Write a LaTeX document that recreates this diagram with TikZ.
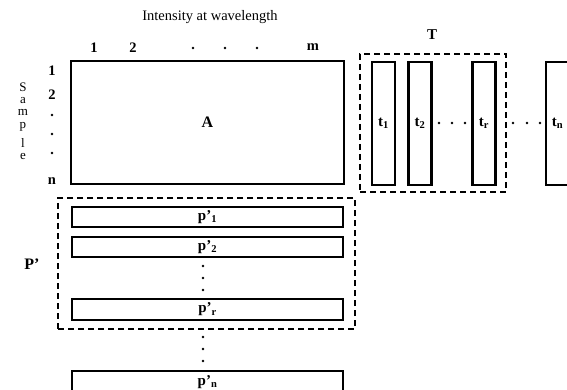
\documentclass[tikz,border=0pt]{standalone}
\usepackage{fontspec}
\setmainfont{Liberation Serif}
\begin{document}
\begin{tikzpicture}[x=1pt,y=-1pt,
  mat/.style={draw,line width=2.6pt,inner sep=0pt,font=\fontsize{15}{15}\selectfont\bfseries},
  grp/.style={draw,dash pattern=on 6pt off 4pt,line width=1.3pt,inner sep=0pt},
  lab/.style={inner sep=0pt,font=\fontsize{14.5}{14.5}\selectfont\bfseries},
  sm/.style={inner sep=0pt,font=\fontsize{13}{13}\selectfont},
  dotm/.style={circle,fill,inner sep=0pt,minimum size=2.8pt}]
\useasboundingbox (0,0) rectangle (567,390);
% title
\node[inner sep=0pt,font=\fontsize{14.5}{14.5}\selectfont] (title) at (210,17) {Intensity at wavelength};
% matrix A
\node[mat,font=\fontsize{16}{16}\selectfont\bfseries,minimum width=273pt,minimum height=123pt] (A) at (207.5,122.5) {A};
% column labels
\node[lab] (c1) at (94,48) {1};
\node[lab] (c2) at (133,48) {2};
\node[dotm] (cd1) at (193,48) {};
\node[dotm] (cd2) at (225,48) {};
\node[dotm] (cd3) at (257,48) {};
\node[lab] (cm) at (313,47) {m};
% row labels
\node[lab] (r1) at (52,71) {1};
\node[lab] (r2) at (52,95) {2};
\node[dotm] (rd1) at (52,115) {};
\node[dotm] (rd2) at (52,134) {};
\node[dotm] (rd3) at (52,153) {};
\node[lab] (rn) at (52,181) {n};
% Sample
\node[sm] (s1) at (23,87) {S};
\node[sm] (s2) at (23,101) {a};
\node[sm] (s3) at (23,112.5) {m};
\node[sm] (s4) at (23,127) {p};
\node[sm] (s5) at (23,143) {l};
\node[sm] (s6) at (23,157) {e};
% T group
\node[lab,font=\fontsize{15}{15}\selectfont\bfseries] (Tl) at (432,35) {T};
\node[grp,minimum width=146pt,minimum height=138pt] (Tbox) at (433,123) {};
\node[mat,minimum width=23pt,minimum height=123pt] (t1) at (383.5,123.5) {t\textsubscript{1}};
\node[mat,minimum width=23pt,minimum height=123pt] (t2) at (420,123.5) {t\textsubscript{2}};
\node[mat,minimum width=23pt,minimum height=123pt] (tr) at (484,123.5) {t\textsubscript{r}};
\node[mat,minimum width=23pt,minimum height=123pt] (tn) at (557.5,123.5) {t\textsubscript{n}};
\node[dotm] (td1) at (439,123) {};
\node[dotm] (td2) at (452,123) {};
\node[dotm] (td3) at (465,123) {};
\node[dotm] (td4) at (513,123) {};
\node[dotm] (td5) at (527,123) {};
\node[dotm] (td6) at (540,123) {};
% P' group
\node[lab,font=\fontsize{16}{16}\selectfont\bfseries] (Pl) at (32,264) {P'};
\node[grp,minimum width=297pt,minimum height=131pt] (Pbox) at (206.5,263.5) {};
\node[mat,minimum width=271pt,minimum height=20pt] (p1) at (207.5,217) {p'\textsubscript{1}};
\node[mat,minimum width=271pt,minimum height=20pt] (p2) at (207.5,247) {p'\textsubscript{2}};
\node[mat,minimum width=271pt,minimum height=21pt] (pr) at (207.5,309.5) {p'\textsubscript{r}};
\node[mat,minimum width=271pt,minimum height=22pt] (pn) at (207.5,382) {p'\textsubscript{n}};
\node[dotm] (pd1) at (203,266) {};
\node[dotm] (pd2) at (203,278) {};
\node[dotm] (pd3) at (203,290) {};
\node[dotm] (pd4) at (203,337) {};
\node[dotm] (pd5) at (203,349) {};
\node[dotm] (pd6) at (203,361) {};
\end{tikzpicture}
\end{document}
